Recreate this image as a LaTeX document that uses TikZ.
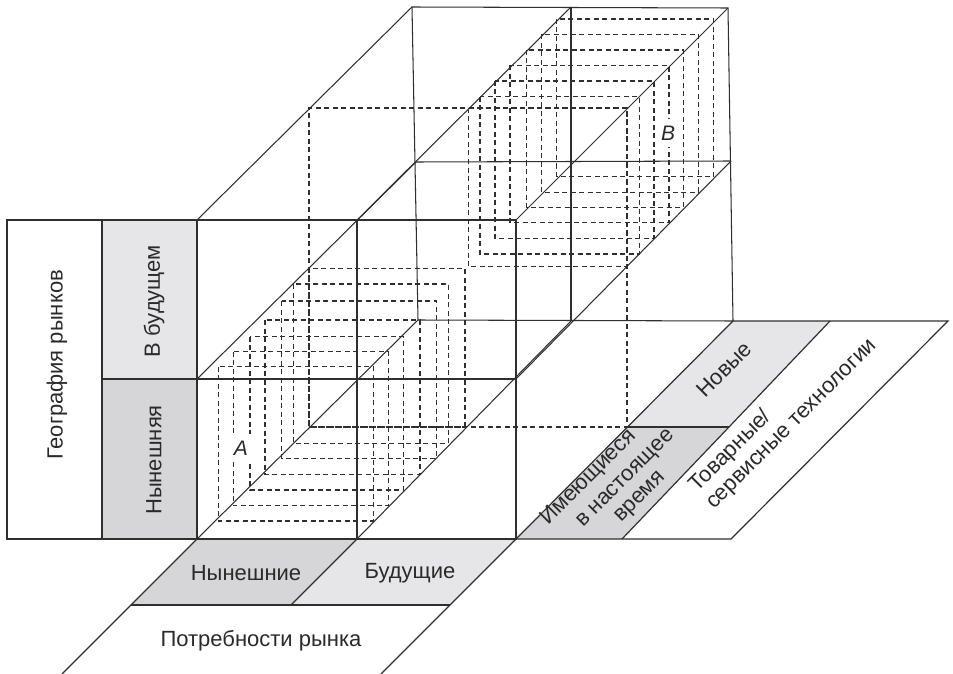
\documentclass[tikz,border=0pt]{standalone}
\usepackage{fontspec}
\setmainfont{Liberation Sans}
\definecolor{ln}{HTML}{2F2F2F}
\definecolor{txt}{HTML}{2A2A2A}
\definecolor{dk}{HTML}{D6D6D8}
\definecolor{lt}{HTML}{E6E6E8}
\begin{document}
\begin{tikzpicture}[x=1pt,y=-1pt,
  thinline/.style={draw=ln, line width=1.05pt},
  thickline/.style={draw=ln, line width=1.7pt},
  paraline/.style={draw=ln, line width=1.2pt, line join=miter},
  dashline/.style={draw=ln, line width=1.05pt, dash pattern=on 5pt off 3.5pt},
  lbl/.style={font=\fontsize{22}{25}\selectfont, text=txt, inner sep=0pt},
  dlbl/.style={lbl, rotate=45, anchor=base west},
  letter/.style={font=\fontsize{21}{25}\selectfont\itshape, text=txt, fill=white,
    inner xsep=3pt, inner ysep=7pt}]
\useasboundingbox (0,0) rectangle (953,674);
\fill[white] (0,0) rectangle (953,674);

% ---- front face corners
\coordinate (F00) at (197,539); \coordinate (F10) at (357,539); \coordinate (F20) at (516,539);
\coordinate (F01) at (197,379); \coordinate (F11) at (357,379); \coordinate (F21) at (516,379);
\coordinate (F02) at (197,220); \coordinate (F12) at (357,220); \coordinate (F22) at (516,220);
% ---- back face corners
\coordinate (B00) at (418,320); \coordinate (B10) at (571,321); \coordinate (B20) at (733,321);
\coordinate (B01) at (416,162); \coordinate (B11) at (572,162); \coordinate (B21) at (731,161);
\coordinate (B02) at (412,7);   \coordinate (B12) at (571,7);   \coordinate (B22) at (728,8);
% ---- middle plane corners
\coordinate (M00) at (309,427); \coordinate (M20) at (627,427);
\coordinate (M22) at (627,108); \coordinate (M02) at (309,108);

% ---- table on the left
\coordinate (T0) at (7,220); \coordinate (T1) at (7,539);
\coordinate (T2) at (102,220); \coordinate (T3) at (102,539); \coordinate (T4) at (102,379);
\fill[lt] (T2) rectangle (F01);
\fill[dk] (T4) rectangle (F00);

% ---- bottom parallelograms
\coordinate (N1) at (131,605); \coordinate (N2) at (291,605); \coordinate (N3) at (450,605);
\coordinate (P1) at (62,674); \coordinate (P2) at (381,674);
\fill[dk] (F00) -- (F10) -- (N2) -- (N1) -- cycle;
\fill[lt] (F10) -- (F20) -- (N3) -- (N2) -- cycle;

% ---- right parallelograms
\coordinate (R1) at (622,539); \coordinate (R2) at (729,427); \coordinate (R3) at (830,321);
\coordinate (R4) at (731,539); \coordinate (R5) at (948,321);
\fill[dk] (F20) -- (R1) -- (R2) -- (M20) -- cycle;
\fill[lt] (M20) -- (R2) -- (R3) -- (B20) -- cycle;

% ---- dashed middle plane
\draw[dashline] (M00) -- (M20) -- (M22) -- (M02) -- cycle;

% ---- dashed squares of cube A
\foreach \l/\r/\t/\b in {218.3/373.3/366.7/521, 233.3/388.3/351.7/505.7,
  250/403.3/336.7/490, 265/420/320/474.3, 281.7/436.7/301/458.3,
  293.3/448.3/284/443.3, 309/465/268.3/427}
  \draw[dashline] (\l,\t) rectangle (\r,\b);
% ---- dashed squares of cube B
\foreach \l/\r/\t/\b in {468.3/627/108/266.7, 480/639.3/96.7/254,
  495/654/81/238.3, 510/669/65.3/222.7, 526.7/683.3/50/207.3,
  541.7/698.3/34.3/192.3, 556.7/713.3/19/176.7}
  \draw[dashline] (\l,\t) rectangle (\r,\b);

% ---- back face
\draw[thinline] (B00) -- (B20) -- (B22) -- (B02) -- cycle;
\draw[thinline] (B01) -- (B21);
\draw[thinline] (B10) -- (B12);

% ---- depth edges (all but the inner one)
\draw[thinline] (F02) -- (B02);
\draw[thinline] (F12) -- (B12);
\draw[thinline] (F22) -- (B22);
\draw[thinline] (F01) -- (B01);
\draw[thinline] (F21) -- (B21);
\draw[thinline] (F00) -- (B00);
\draw[thinline] (F10) -- (B10);

% ---- front face
\draw[thinline] (F01) -- (F21);
\draw[thinline] (F10) -- (F12);
\draw[thickline] (F00) rectangle (F22);

% ---- parallelogram outlines
\draw[paraline] (F00) -- (P1);
\draw[paraline] (F20) -- (P2);
\draw[paraline] (N1) -- (N3);
\draw[paraline] (F10) -- (N2);
\draw[paraline] (F20) -- (R4) -- (R5) -- (B20);
\draw[paraline] (R1) -- (R2) -- (R3);
\draw[paraline] (M20) -- (R2);
\draw[paraline] (F20) -- (B20);

% ---- table outline
\draw[thickline] (T0) rectangle (F00);
\draw[thickline] (T2) -- (T3);
\draw[thinline] (T4) -- (F01);

% ---- texts
\node[lbl, rotate=90] (geo) at (57,365) {География рынков};
\node[lbl, rotate=90] (fut) at (154,301) {В будущем};
\node[lbl, rotate=90] (now) at (154,460) {Нынешняя};
\node[lbl] (nowN) at (246,573) {Нынешние};
\node[lbl] (futN) at (410,573) {Будущие};
\node[lbl] (need) at (261,641) {Потребности рынка};
\node[dlbl] (newT) at (705,399) {Новые};
\node[dlbl] (cur1) at (548,526) {Имеющиеся};
\node[dlbl] (cur2) at (583,528) {в настоящее};
\node[dlbl] (cur3) at (621,523) {время};
\node[dlbl] (tech1) at (697,493) {Товарные/};
\node[dlbl] (tech2) at (714,510) {сервисные технологии};
\node[letter] (labA) at (241,448) {A};
\node[letter] (labB) at (668,133) {B};
\end{tikzpicture}
\end{document}
